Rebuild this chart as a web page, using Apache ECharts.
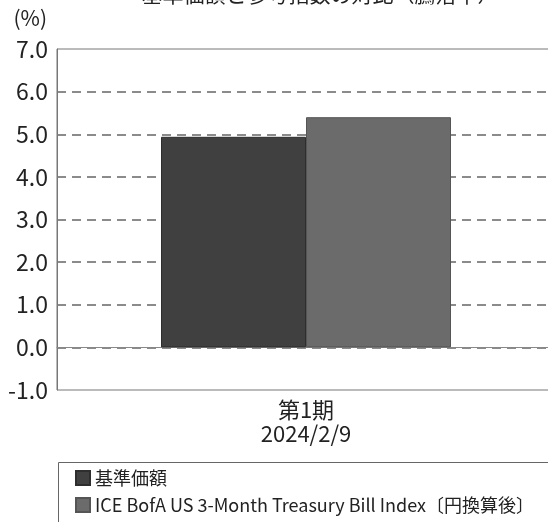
<!DOCTYPE html>
<html>
<head>
<meta charset="utf-8">
<script src="https://cdn.jsdelivr.net/npm/echarts@6/dist/echarts.min.js"></script>
<style>
  html, body { margin: 0; padding: 0; background: #fff; }
  #chart { width: 548px; height: 522px; }
</style>
</head>
<body>
<div id="chart"></div>
<script>
var categories = ['第1期\n2024/2/9'];
var seriesNames = ['基準価額', 'ICE BofA US 3-Month Treasury Bill Index〔円換算後〕'];
var navValues = [4.94];
var indexValues = [5.40];

var font = '"Noto Sans CJK JP", "Noto Sans", sans-serif';

function legendRow(name, top) {
    return {
        left: 75,
        top: top,
        icon: 'rect',
        itemWidth: 14,
        itemHeight: 14,
        padding: 0,
        textStyle: { fontFamily: font, fontSize: 18, color: '#222' },
        data: [name]
    };
}

var myChart = echarts.init(document.getElementById('chart'));
var option = {
    animation: false,
    title: {
        text: '基準価額と参考指数の対比（騰落率）',
        left: 315,
        textAlign: 'center',
        top: -21,
        textStyle: { fontFamily: font, fontSize: 21, fontWeight: 'normal', color: '#222' }
    },
    grid: {
        left: 57,
        width: 498,
        top: 49,
        height: 341,
        outerBoundsMode: 'none',
        containLabel: false,
        show: true,
        borderColor: '#777',
        borderWidth: 1,
        backgroundColor: 'transparent'
    },
    graphic: [{
        type: 'rect',
        left: 56,
        top: 460,
        shape: { width: 520, height: 90 },
        style: { fill: 'none', stroke: '#666', lineWidth: 1 }
    }],
    legend: [
        legendRow(seriesNames[0], 469),
        legendRow(seriesNames[1], 496)
    ],
    xAxis: {
        type: 'category',
        data: categories,
        axisLine: { onZero: true, lineStyle: { color: '#888', width: 1 } },
        axisTick: { show: false },
        axisLabel: { fontFamily: font, fontSize: 22, color: '#222', lineHeight: 24, margin: 8 }
    },
    yAxis: {
        type: 'value',
        min: -1,
        max: 7,
        interval: 1,
        name: '(%)',
        nameLocation: 'end',
        nameGap: 20,
        nameTextStyle: { fontFamily: font, fontSize: 21, color: '#222', align: 'right', padding: [0, 10, 0, 0] },
        axisLine: { show: true, lineStyle: { color: '#777' } },
        axisTick: { show: false },
        axisLabel: {
            fontFamily: font, fontSize: 23, color: '#222', margin: 9,
            formatter: function (v) { return v.toFixed(1); }
        },
        splitLine: {
            show: true,
            showMinLine: false,
            showMaxLine: false,
            lineStyle: { color: '#666', type: [9, 6], width: 1.5 }
        }
    },
    series: [
        {
            name: seriesNames[0],
            type: 'bar',
            data: navValues,
            barWidth: 145,
            barGap: '0%',
            itemStyle: { color: '#404040', borderColor: '#2e2e2e', borderWidth: 1 }
        },
        {
            name: seriesNames[1],
            type: 'bar',
            data: indexValues,
            barWidth: 145,
            itemStyle: { color: '#6b6b6b', borderColor: '#555', borderWidth: 1 }
        }
    ]
};
myChart.setOption(option);
</script>
</body>
</html>
